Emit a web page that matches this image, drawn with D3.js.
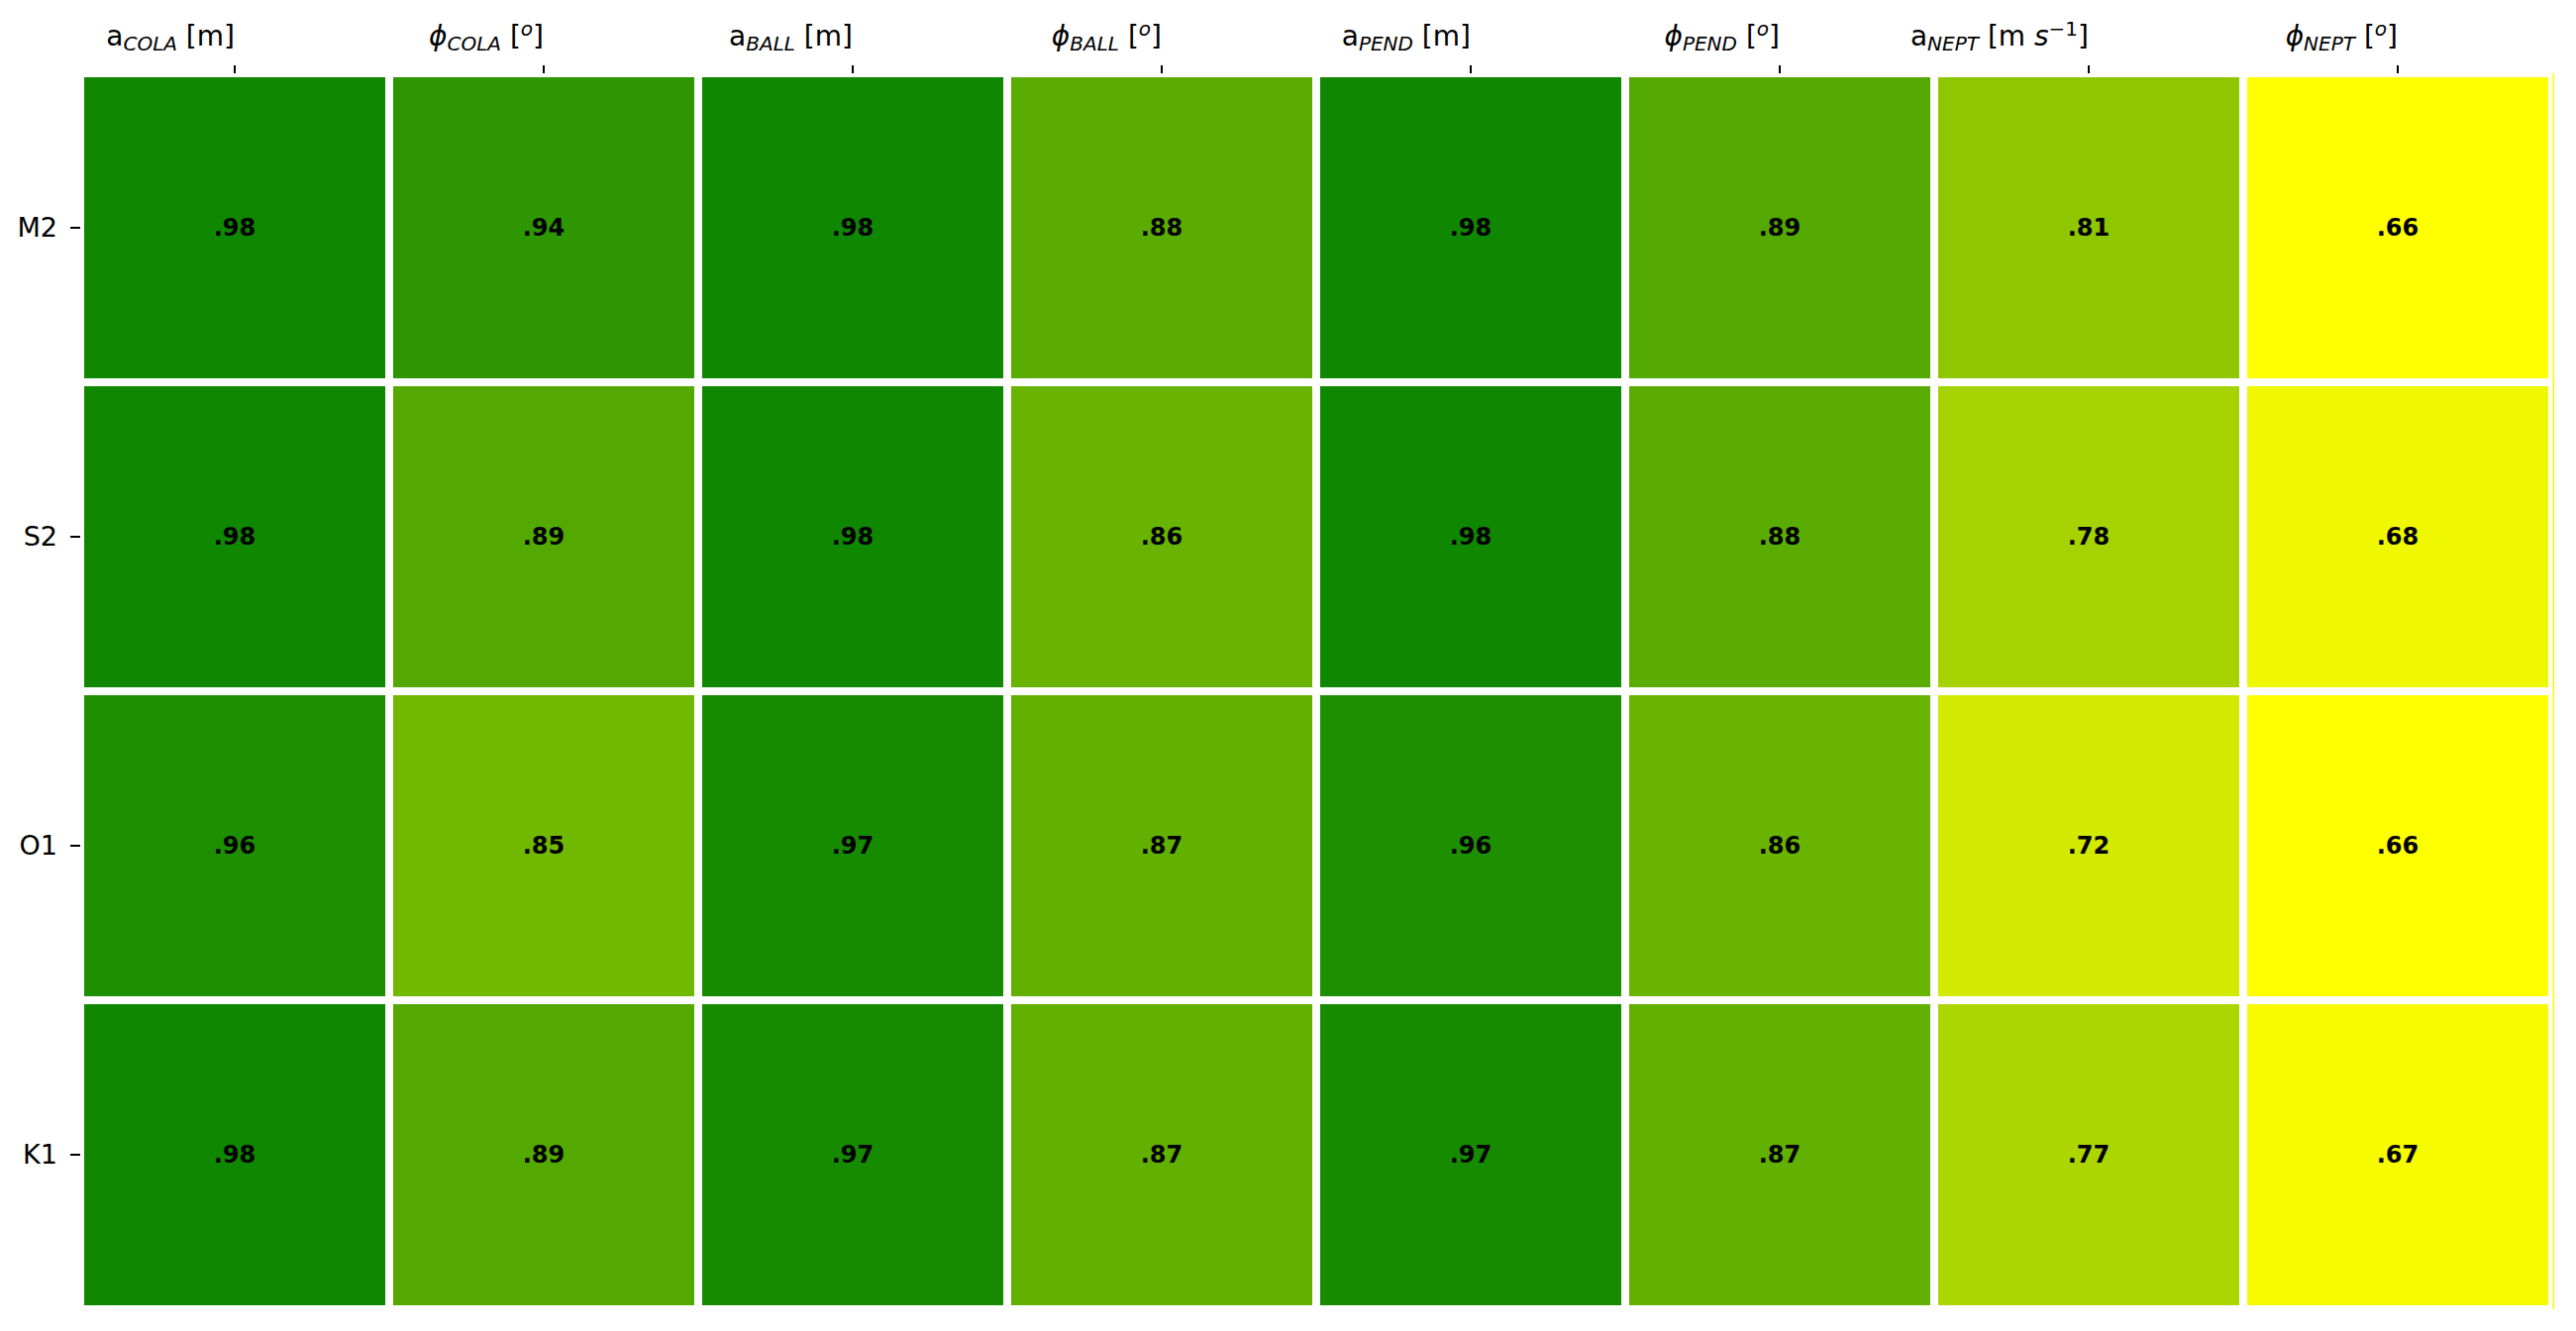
<!DOCTYPE html>
<html>
<head>
<meta charset="utf-8">
<script src="https://cdn.jsdelivr.net/npm/d3@7"></script>
<style>
  html, body { margin: 0; padding: 0; background: #ffffff; }
  svg { display: block; font-family: "DejaVu Sans", sans-serif; }
</style>
</head>
<body>
<svg id="chart" width="2601" height="1344"></svg>
<script>
// ---- data ----
const rowLabels = ["M2", "S2", "O1", "K1"];
const colSymbols = ["a", "ϕ", "a", "ϕ", "a", "ϕ", "a", "ϕ"];
const colSubscripts = ["COLA", "COLA", "BALL", "BALL", "PEND", "PEND", "NEPT", "NEPT"];
const colUnits = ["m", "deg", "m", "deg", "m", "deg", "ms-1", "deg"];
const valuesM2 = [0.98, 0.94, 0.98, 0.88, 0.98, 0.89, 0.81, 0.66];
const valuesS2 = [0.98, 0.89, 0.98, 0.86, 0.98, 0.88, 0.78, 0.68];
const valuesO1 = [0.96, 0.85, 0.97, 0.87, 0.96, 0.86, 0.72, 0.66];
const valuesK1 = [0.98, 0.89, 0.97, 0.87, 0.97, 0.87, 0.77, 0.67];
const colorDomain = [0.66, 1.0];

const valueRows = [valuesM2, valuesS2, valuesO1, valuesK1];
const cells = [];
valueRows.forEach((vals, r) => vals.forEach((v, c) => cells.push({ row: rowLabels[r], col: c, value: v })));

// ---- layout ----
const svg = d3.select("#chart");
const x0 = 81, x1 = 2577, y0 = 74, y1 = 1322;
const gap = 8;

const x = d3.scaleBand().domain(d3.range(colSymbols.length)).range([x0, x1]).padding(0);
const y = d3.scaleBand().domain(rowLabels).range([y0, y1]).padding(0);
const color = d3.scaleLinear().domain(colorDomain).range(["#ffff00", "#008000"]).interpolate(d3.interpolateRgb);

// thin edge artifact at right of last column (per row)
svg.append("g").selectAll("rect")
  .data(cells.filter(d => d.col === colSymbols.length - 1))
  .join("rect")
  .attr("x", d => x(d.col) + x.bandwidth() + 0.5)
  .attr("y", d => y(d.row))
  .attr("width", 1.5)
  .attr("height", y.bandwidth())
  .attr("fill", d => color(d.value));

// cells
svg.append("g").selectAll("rect")
  .data(cells)
  .join("rect")
  .attr("x", d => x(d.col) + gap / 2)
  .attr("y", d => y(d.row) + gap / 2)
  .attr("width", x.bandwidth() - gap)
  .attr("height", y.bandwidth() - gap)
  .attr("fill", d => color(d.value));

// annotations
const fmt = v => d3.format(".2f")(v).replace(/^0/, "");
svg.append("g").selectAll("text")
  .data(cells)
  .join("text")
  .attr("x", d => x(d.col) + x.bandwidth() / 2)
  .attr("y", d => y(d.row) + y.bandwidth() / 2)
  .attr("text-anchor", "middle")
  .attr("dominant-baseline", "central")
  .attr("font-size", 24)
  .attr("font-weight", "bold")
  .attr("fill", "#000")
  .text(d => fmt(d.value));

// left axis
const yAxis = d3.axisLeft(y).tickSize(10).tickPadding(13);
const gy = svg.append("g").attr("transform", `translate(${x0},0)`).call(yAxis);
gy.select(".domain").remove();
gy.selectAll(".tick line").attr("stroke", "#000").attr("stroke-width", 2);
gy.selectAll(".tick text").attr("font-size", 27).attr("fill", "#000")
  .attr("font-family", "DejaVu Sans");

// top axis (ticks only, labels drawn manually with math-style formatting)
const xAxis = d3.axisTop(x).tickSize(8).tickFormat("");
const gx = svg.append("g").attr("transform", `translate(0,${y0})`).call(xAxis);
gx.select(".domain").remove();
gx.selectAll(".tick line").attr("stroke", "#000").attr("stroke-width", 2);

const baseFs = 28, subFs = 20;
const labels = svg.append("g");
colSymbols.forEach((sym, i) => {
  const t = labels.append("text")
    .attr("x", x(i) + x.bandwidth() / 2)
    .attr("y", 46)
    .attr("text-anchor", "end")
    .attr("font-size", baseFs)
    .attr("fill", "#000");
  t.append("tspan").text(sym).attr("font-style", sym === "ϕ" ? "italic" : "normal");
  t.append("tspan").text(colSubscripts[i]).attr("font-style", "italic")
    .attr("font-size", subFs).attr("dy", 5);
  const u = colUnits[i];
  if (u === "m") {
    t.append("tspan").text("\u00a0[m]").attr("dy", -5);
  } else if (u === "deg") {
    t.append("tspan").text("\u00a0[").attr("dy", -5);
    t.append("tspan").text("o").attr("font-style", "italic").attr("font-size", subFs).attr("dy", -10);
    t.append("tspan").text("]").attr("dy", 10);
  } else {
    t.append("tspan").text("\u00a0[m\u00a0").attr("dy", -5);
    t.append("tspan").text("s").attr("font-style", "italic");
    t.append("tspan").text("\u22121").attr("font-size", subFs).attr("dy", -10);
    t.append("tspan").text("]").attr("dy", 10);
  }
});
</script>
</body>
</html>
